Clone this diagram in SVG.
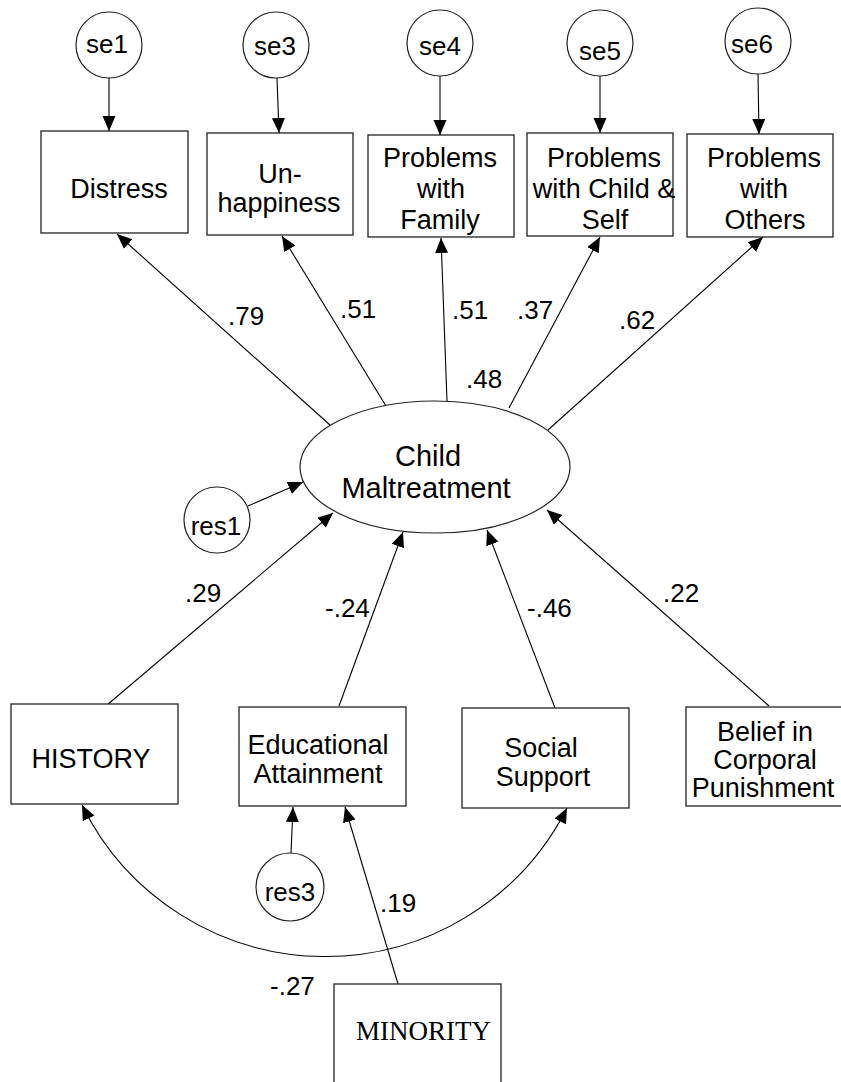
<svg xmlns="http://www.w3.org/2000/svg" width="841" height="1082" viewBox="0 0 841 1082">
<style>
.box{fill:#fff;stroke:#222;stroke-width:1.3}
.circ{fill:#fff;stroke:#222;stroke-width:1.2}
.t{font-family:"Liberation Sans",Arial,sans-serif;font-size:27px;fill:#000;text-anchor:middle}
.c{font-family:"Liberation Sans",Arial,sans-serif;font-size:26px;fill:#000;text-anchor:middle}
.n{font-family:"Liberation Sans",Arial,sans-serif;font-size:26px;fill:#000}
.e{font-family:"Liberation Sans",Arial,sans-serif;font-size:29px;fill:#000;text-anchor:middle}
.s{font-family:"Liberation Serif","Times New Roman",serif;font-size:27px;fill:#000}
.ln{fill:none;stroke:#000;stroke-width:1.1}
</style>
<defs>
<marker id="ah" markerUnits="userSpaceOnUse" markerWidth="16" markerHeight="14" refX="15" refY="6.5" orient="auto-start-reverse" viewBox="0 0 16 14">
<path d="M0,0 L15,6.5 L0,13 z" fill="#000"/>
</marker>
</defs>
<rect width="841" height="1082" fill="#fff"/>
<g id="connectors">
<line class="ln" x1="109" y1="78" x2="109" y2="131" marker-end="url(#ah)"/>
<line class="ln" x1="277" y1="78" x2="279" y2="133" marker-end="url(#ah)"/>
<line class="ln" x1="440" y1="76" x2="440" y2="135" marker-end="url(#ah)"/>
<line class="ln" x1="600" y1="76" x2="600" y2="133" marker-end="url(#ah)"/>
<line class="ln" x1="758" y1="74" x2="759" y2="134" marker-end="url(#ah)"/>
<line class="ln" x1="330" y1="425" x2="117" y2="234" marker-end="url(#ah)"/>
<line class="ln" x1="386" y1="406" x2="282" y2="236" marker-end="url(#ah)"/>
<line class="ln" x1="447" y1="401" x2="441" y2="238" marker-end="url(#ah)"/>
<line class="ln" x1="509" y1="408" x2="600" y2="237" marker-end="url(#ah)"/>
<line class="ln" x1="548" y1="430" x2="763" y2="237" marker-end="url(#ah)"/>
<line class="ln" x1="248" y1="506" x2="303" y2="482" marker-end="url(#ah)"/>
<line class="ln" x1="107" y1="705" x2="333" y2="513" marker-end="url(#ah)"/>
<line class="ln" x1="339" y1="706" x2="403" y2="532" marker-end="url(#ah)"/>
<line class="ln" x1="555" y1="708" x2="487" y2="530" marker-end="url(#ah)"/>
<line class="ln" x1="769" y1="706" x2="547" y2="510" marker-end="url(#ah)"/>
<line class="ln" x1="291" y1="853" x2="293" y2="807" marker-end="url(#ah)"/>
<line class="ln" x1="398" y1="984" x2="345" y2="807" marker-end="url(#ah)"/>
<path class="ln" d="M82,805 A271,271 0 0 0 567,808" marker-start="url(#ah)" marker-end="url(#ah)"/>
<text class="n" x="228" y="325">.79</text>
<text class="n" x="340" y="318">.51</text>
<text class="n" x="452" y="319">.51</text>
<text class="n" x="517" y="319">.37</text>
<text class="n" x="619" y="329">.62</text>
<text class="n" x="466" y="388">.48</text>
<text class="n" x="185" y="602">.29</text>
<text class="n" x="325" y="617">-.24</text>
<text class="n" x="527" y="617">-.46</text>
<text class="n" x="663" y="602">.22</text>
<text class="n" x="380" y="912">.19</text>
<text class="n" x="270" y="995">-.27</text>
</g>
<g id="se1"><circle class="circ" cx="109" cy="45" r="33"/><text class="c" x="107" y="53">se1</text></g>
<g id="se3"><circle class="circ" cx="276" cy="45" r="33"/><text class="c" x="275" y="55">se3</text></g>
<g id="se4"><circle class="circ" cx="440" cy="43" r="33"/><text class="c" x="440" y="55">se4</text></g>
<g id="se5"><circle class="circ" cx="600" cy="43" r="33"/><text class="c" x="600" y="60">se5</text></g>
<g id="se6"><circle class="circ" cx="758" cy="41" r="33"/><text class="c" x="752" y="53">se6</text></g>
<g id="distress"><rect class="box" x="41" y="131" width="147" height="102"/><text class="t" x="119" y="198">Distress</text></g>
<g id="unhappiness"><rect class="box" x="207" y="133" width="146" height="102"/><text class="t" x="280" y="183">Un-</text><text class="t" x="279" y="212">happiness</text></g>
<g id="family"><rect class="box" x="368" y="135" width="146" height="102"/><text class="t" x="440" y="167">Problems</text><text class="t" x="441" y="198">with</text><text class="t" x="440" y="229">Family</text></g>
<g id="childself"><rect class="box" x="527" y="133" width="146" height="103"/><text class="t" x="604" y="167">Problems</text><text class="t" x="604" y="198">with Child &amp;</text><text class="t" x="605" y="229">Self</text></g>
<g id="others"><rect class="box" x="687" y="134" width="146" height="103"/><text class="t" x="764" y="167">Problems</text><text class="t" x="764" y="198">with</text><text class="t" x="765" y="229">Others</text></g>
<g id="maltreatment"><ellipse class="circ" cx="435" cy="467" rx="135" ry="66"/><text class="e" x="428" y="466">Child</text><text class="e" x="426" y="498">Maltreatment</text></g>
<g id="res1"><circle class="circ" cx="217" cy="520" r="33"/><text class="c" x="216" y="535">res1</text></g>
<g id="history"><rect class="box" x="11" y="704" width="167" height="100"/><text class="t" x="91" y="768">HISTORY</text></g>
<g id="education"><rect class="box" x="239" y="707" width="167" height="99"/><text class="t" x="318" y="754">Educational</text><text class="t" x="318" y="783">Attainment</text></g>
<g id="social"><rect class="box" x="462" y="708" width="167" height="100"/><text class="t" x="541" y="757">Social</text><text class="t" x="543" y="786">Support</text></g>
<g id="belief"><rect class="box" x="686" y="707" width="167" height="99"/><text class="t" x="765" y="741">Belief in</text><text class="t" x="765" y="769">Corporal</text><text class="t" x="763" y="797">Punishment</text></g>
<g id="res3"><circle class="circ" cx="290" cy="887" r="34"/><text class="c" x="290" y="901">res3</text></g>
<g id="minority"><rect class="box" x="334" y="984" width="167" height="100"/><text class="s" x="356" y="1040">MINORITY</text></g>
</svg>
